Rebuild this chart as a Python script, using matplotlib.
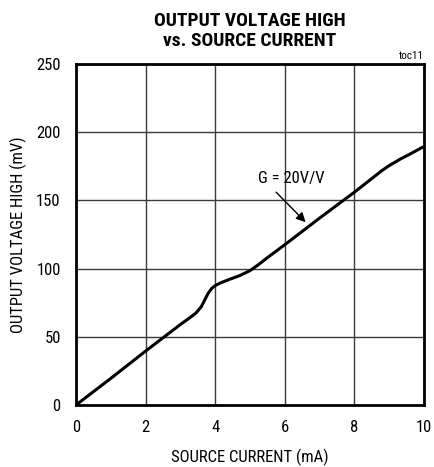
import matplotlib
matplotlib.use("Agg")
from matplotlib import pyplot as plt
import numpy as np

# values (source current in mA, output voltage high in mV)
current_ma = [0.0, 1.0, 2.0, 3.0, 3.3, 3.45, 3.6, 3.7, 3.8, 3.9, 4.0, 4.15, 4.4, 4.7, 5.0, 5.25, 5.5, 6.0, 7.0, 8.0,
              8.5, 8.8, 9.0, 9.3, 9.6, 10.0]
voh_mv = [0.0, 19.5, 39.5, 59.0, 64.5, 67.5, 72.0, 77.0, 82.0, 85.5, 87.5, 89.5, 92.0, 94.8, 98.5, 103.0, 108.0, 117.5,
          137.0, 156.0, 166.0, 172.0, 175.5, 180.0, 184.0, 189.5]

x_ticks = [0, 2, 4, 6, 8, 10]
y_ticks = [0, 50, 100, 150, 200, 250]

plt.rcParams['font.family'] = ['Roboto Condensed', 'Liberation Sans', 'DejaVu Sans']

fig = plt.figure(figsize=(4.35, 4.67), dpi=100)
ax = fig.add_axes([0.1747, 0.1328, 0.8, 0.7302])

ax.plot(current_ma, voh_mv, color='black', lw=2.2, solid_capstyle='round', solid_joinstyle='round', zorder=3)

ax.set_xlim(0, 10)
ax.set_ylim(0, 250)
ax.set_xticks(x_ticks)
ax.set_yticks(y_ticks)
ax.grid(True, color='#3a3a3a', lw=1.0)
for s in ax.spines.values():
    s.set_linewidth(2.0)
ax.tick_params(length=0, labelsize=12, pad=11)

ax.set_xlabel("SOURCE CURRENT (mA)", fontsize=12, va='center')
ax.set_ylabel("OUTPUT VOLTAGE HIGH (mV)", fontsize=12, va='center')
ax.xaxis.set_label_coords(0.5, -0.155)
ax.yaxis.set_label_coords(-0.167, 0.5)
ax.set_title("OUTPUT VOLTAGE HIGH\nvs. SOURCE CURRENT", fontsize=14, fontweight='bold', pad=13, linespacing=1.15)

ax.text(1.0, 1.008, "toc11", transform=ax.transAxes, ha='right', va='bottom', fontsize=8)

ax.text(6.2, 166, "G = 20V/V", ha='center', va='center', fontsize=12)
ax.annotate("", xy=(6.6, 134), xytext=(5.75, 156),
            arrowprops=dict(arrowstyle='-|>', color='black', lw=1.0, mutation_scale=14, shrinkA=0, shrinkB=0))

fig.savefig("out.png", dpi=100)
